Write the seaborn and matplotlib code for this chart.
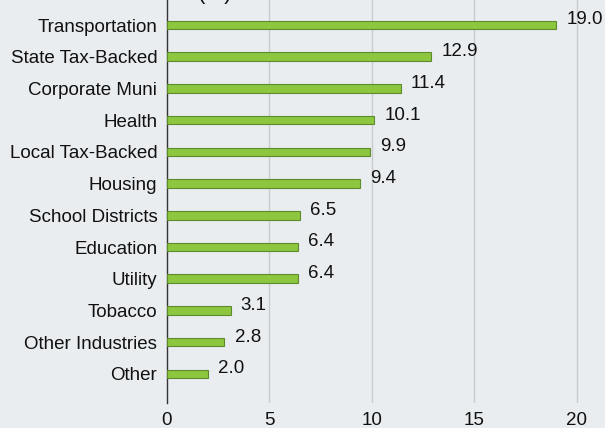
import matplotlib
matplotlib.use('Agg')
import matplotlib.pyplot as plt
import seaborn as sns
import pandas as pd

sectors = ['Transportation', 'State Tax-Backed', 'Corporate Muni', 'Health',
           'Local Tax-Backed', 'Housing', 'School Districts', 'Education',
           'Utility', 'Tobacco', 'Other Industries', 'Other']
shares = [19.0, 12.9, 11.4, 10.1, 9.9, 9.4, 6.5, 6.4, 6.4, 3.1, 2.8, 2.0]

df = pd.DataFrame({'Sector': sectors, 'Share': shares})

bg = '#E9EDF0'
sns.set_style('white')
plt.rcParams['font.family'] = ['Liberation Sans', 'DejaVu Sans']

fig = plt.figure(figsize=(6.05, 4.28), dpi=100, facecolor=bg)
ax = fig.add_axes([0.276, 0.0584, 0.724, 0.9416])
ax.set_facecolor(bg)

sns.barplot(data=df, x='Share', y='Sector', orient='h', width=0.27,
            color='#8DC63F', edgecolor='#5E8C2C', linewidth=0.8,
            saturation=1, ax=ax, zorder=3)

for i, v in enumerate(shares):
    ax.text(v + 0.5, i - 0.16, f'{v:.1f}', va='center', ha='left',
            fontsize=13.5, color='#111111')

ax.set_xlim(0, 21.37)
ax.set_ylim(11.92, -0.79)
ax.set_xticks([0, 5, 10, 15, 20])
ax.set_xlabel('')
ax.set_ylabel('')
ax.tick_params(axis='both', length=0, labelsize=13.5, colors='#111111')
ax.tick_params(axis='y', pad=7)
ax.tick_params(axis='x', pad=6.5)
for x in [5, 10, 15, 20]:
    ax.axvline(x, color='#C9CCCE', linewidth=1, zorder=1)

for s in ['top', 'right', 'bottom']:
    ax.spines[s].set_visible(False)
ax.spines['left'].set_color('#333333')
ax.spines['left'].set_linewidth(1)

# title cut off at the top of the picture, only the bottoms of "(%)" show
fig.text(215 / 605, 1 + 1 / 428, '(%)', ha='center', va='baseline',
         fontsize=16, color='#111111')

fig.savefig('out.png', dpi=100, facecolor=bg)
